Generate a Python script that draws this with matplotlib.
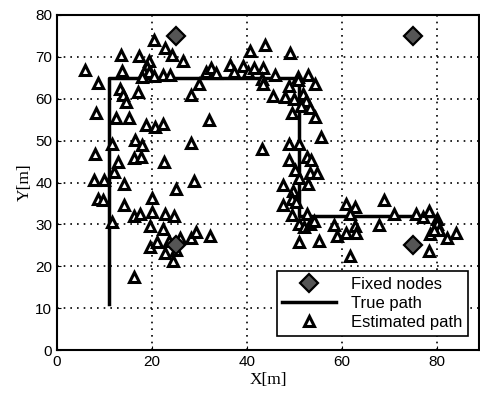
import numpy as np
import matplotlib.pyplot as plt

# fixed anchor nodes
fixed_x = [25, 75, 25, 75]
fixed_y = [75, 75, 25, 25]

# true path corners
path_x = [11, 11, 51, 51, 80]
path_y = [11, 65, 65, 32, 32]

# estimated positions
est_x = [5.9, 8.7, 13.5, 13.7, 17.2, 19.4, 20.5, 22.7, 24.2, 26.5,
         18.9, 18.4, 19.3, 17.9, 20.4, 22.4, 23.8, 13.2, 14.0, 14.5,
         17.0, 8.3, 12.4, 15.2, 18.8, 20.7, 22.4, 28.2, 30.0, 32.1,
         11.6, 16.5, 18.0, 8.1, 12.8, 16.2, 17.6, 22.6, 28.3, 12.0,
         7.8, 9.8, 14.1, 25.0, 28.8, 8.7, 9.6, 20.0, 14.2, 16.2,
         17.5, 20.0, 19.6, 11.5, 22.8, 24.6, 22.4, 19.5, 21.0, 23.7,
         22.8, 25.9, 25.0, 24.4, 28.3, 29.2, 32.3, 16.2,
         31.4, 32.4, 33.5, 36.4, 37.2, 39.2, 40.2, 40.7, 43.8, 41.5,
         43.4, 43.3, 43.5, 49.2, 45.9, 50.8, 53.0, 54.4, 48.8, 50.7,
         45.5, 48.1, 50.0, 51.8, 52.5, 53.4, 49.5, 51.5, 54.4, 43.3,
         55.7, 48.8, 51.1, 48.8, 52.7, 53.5, 50.2, 53.4, 54.8, 51.1,
         47.6, 49.8, 53.0, 47.6, 49.5, 50.4, 49.5, 50.9, 52.7, 52.0,
         53.4, 54.1, 50.9, 55.3,
         58.3, 59.0, 61.0, 62.9, 61.8, 61.0, 62.9, 63.0, 61.7, 67.8,
         69.0, 71.1, 75.7, 77.1, 78.5, 78.7, 78.5, 80.1, 80.1, 80.4,
         79.4, 82.2, 84.0]
est_y = [66.8, 63.7, 70.5, 66.7, 70.2, 69.0, 73.9, 72.0, 70.5, 69.0,
         67.6, 66.4, 66.3, 65.2, 65.5, 65.7, 65.6, 62.4, 60.9, 59.2,
         61.6, 56.7, 55.3, 55.3, 53.7, 53.2, 54.0, 60.9, 63.5, 55.0,
         49.3, 50.2, 48.9, 46.7, 45.0, 45.8, 46.2, 44.9, 49.5, 42.5,
         40.7, 40.7, 39.6, 38.4, 40.3, 36.0, 35.8, 36.2, 34.6, 32.1,
         32.4, 33.0, 29.7, 30.6, 32.5, 31.9, 28.9, 24.5, 25.9, 26.1,
         23.1, 26.7, 24.0, 21.2, 26.8, 28.2, 27.2, 17.4,
         66.4, 67.4, 66.2, 68.0, 66.4, 67.8, 66.3, 71.5, 72.9, 67.3,
         67.3, 64.8, 63.4, 71.0, 65.6, 65.2, 65.6, 63.4, 63.0, 64.4,
         60.6, 60.4, 60.0, 61.1, 59.5, 57.7, 56.5, 58.2, 55.7, 48.0,
         50.9, 49.3, 49.3, 45.5, 46.1, 45.5, 43.1, 42.3, 42.3, 41.0,
         39.4, 38.0, 39.6, 34.6, 36.0, 35.4, 32.2, 30.2, 32.5, 29.4,
         30.2, 30.9, 25.8, 26.1,
         29.8, 27.2, 34.8, 34.2, 32.6, 28.0, 29.6, 28.0, 22.4, 29.8,
         35.8, 32.5, 32.6, 31.8, 33.2, 27.8, 23.7, 31.2, 30.0, 28.6,
         28.6, 26.7, 28.0]

x_ticks = [0, 20, 40, 60, 80]
y_ticks = [0, 10, 20, 30, 40, 50, 60, 70, 80]

plt.rcParams['font.family'] = ['Liberation Sans', 'DejaVu Sans']

fig = plt.figure(figsize=(4.81, 3.93), dpi=100)
ax = fig.add_axes([0.1185, 0.109, 0.878, 0.853])

ax.plot(fixed_x, fixed_y, linestyle='none', marker='D', markersize=9,
        markerfacecolor='#555555', markeredgecolor='black', markeredgewidth=1.6,
        label='Fixed nodes', zorder=4)
ax.plot(path_x, path_y, color='black', linewidth=2.5, label='True path', zorder=2)
ax.plot(est_x, est_y, linestyle='none', marker='^', markersize=7.5,
        markerfacecolor='white', markeredgecolor='black', markeredgewidth=2.2,
        label='Estimated path', zorder=3)

ax.set_xlim(0, 89)
ax.set_ylim(0, 80)
ax.set_xticks(x_ticks)
ax.set_yticks(y_ticks)
ax.tick_params(direction='in', labelsize=11, length=3)
ax.grid(True, color='black', linestyle=(0, (1, 3)), linewidth=1.2)
for s in ax.spines.values():
    s.set_linewidth(1.5)

ax.set_xlabel('X[m]', family='Liberation Serif', fontsize=12.5, labelpad=2)
ax.set_ylabel('Y[m]', family='Liberation Serif', fontsize=12.5, labelpad=2)

leg = ax.legend(loc='lower right', bbox_to_anchor=(0.993, 0.018), fontsize=12,
                fancybox=False, framealpha=1, edgecolor='black',
                handlelength=3.2, borderpad=0.35, labelspacing=0.25,
                handletextpad=0.9)
leg.get_frame().set_linewidth(1.2)

fig.savefig('out.png', dpi=100)
